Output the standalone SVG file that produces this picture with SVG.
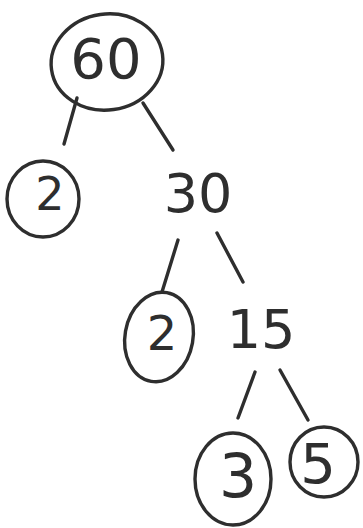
<svg xmlns="http://www.w3.org/2000/svg" width="363" height="528" viewBox="0 0 363 528">
<style>
.ring{fill:none;stroke:#2e2e2e;stroke-width:3.4;stroke-linecap:round}
.edge{fill:none;stroke:#2e2e2e;stroke-width:3.4;stroke-linecap:round}
.num{font-family:"DejaVu Sans",sans-serif;fill:#2e2e2e;text-anchor:middle}
</style>
<rect width="363" height="528" fill="#ffffff"/>
<g id="connectors">
<path class="edge" d="M77,98 L64,144"/>
<path class="edge" d="M143,103 L173,150"/>
<path class="edge" d="M178,240 L162,292"/>
<path class="edge" d="M217,233 L243,282"/>
<path class="edge" d="M255,372 L238,418"/>
<path class="edge" d="M280,370 L308,420"/>
</g>
<g id="n60">
<ellipse class="ring" cx="107" cy="62" rx="56" ry="48" transform="rotate(-8 107 62)"/>
<text class="num" x="106" y="78" font-size="56">60</text>
</g>
<g id="n2a">
<ellipse class="ring" cx="43" cy="199" rx="36" ry="38"/>
<text class="num" x="50" y="210" font-size="46">2</text>
</g>
<g id="n30">
<text class="num" x="198" y="212" font-size="54">30</text>
</g>
<g id="n2b">
<ellipse class="ring" cx="159" cy="337" rx="34" ry="45" transform="rotate(10 159 337)"/>
<text class="num" x="162" y="350" font-size="48">2</text>
</g>
<g id="n15">
<text class="num" x="261" y="348" font-size="54">15</text>
</g>
<g id="n3">
<ellipse class="ring" cx="233" cy="479" rx="38" ry="46"/>
<text class="num" x="238" y="497" font-size="60">3</text>
</g>
<g id="n5">
<ellipse class="ring" cx="324" cy="462" rx="34" ry="35"/>
<text class="num" x="318" y="483" font-size="56">5</text>
</g>
</svg>
